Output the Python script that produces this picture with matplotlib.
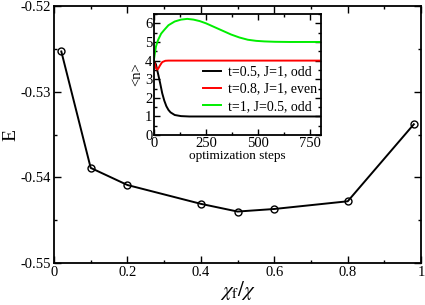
import numpy as np
import matplotlib.pyplot as plt
from matplotlib.ticker import MultipleLocator

plt.rcParams['font.family'] = ['Liberation Serif', 'DejaVu Serif']
plt.rcParams['mathtext.fontset'] = 'stix'

# main curve: energy vs chi_f/chi
chi_ratio = [0.02, 0.1, 0.2, 0.4, 0.5, 0.6, 0.8, 0.98]
energy = [-0.5253, -0.5389, -0.5409, -0.5431, -0.5440, -0.5437, -0.5428, -0.5338]

# inset: <n> vs optimization steps
steps_black = [0, 10, 20, 30, 40, 50, 60, 70, 80, 100, 130, 170, 250, 800]
n_black = [4.0, 3.8, 3.3, 2.8, 2.25, 1.85, 1.55, 1.35, 1.22, 1.08, 1.02, 1.0, 1.0, 1.0]

steps_red = [0, 5, 10, 15, 20, 30, 40, 55, 70, 800]
n_red = [4.0, 3.8, 3.6, 3.52, 3.55, 3.75, 3.92, 3.99, 4.0, 4.0]

steps_green = [0, 5, 10, 20, 35, 50, 70, 100, 130, 160, 190, 220, 250, 290, 330,
               370, 410, 450, 490, 530, 580, 650, 800]
n_green = [4.0, 4.4, 4.75, 5.1, 5.45, 5.65, 5.9, 6.1, 6.2, 6.24, 6.2, 6.12, 6.0,
           5.8, 5.6, 5.4, 5.24, 5.12, 5.06, 5.03, 5.01, 5.0, 5.0]

labels = ['t=0.5, J=1, odd', 't=0.8, J=1, even', 't=1, J=0.5, odd']


def style_ticks(ax, size):
    ax.tick_params(which='both', direction='in', top=True, right=True, width=1.0,
                   labelsize=size, pad=2)
    ax.tick_params(which='major', length=5)
    ax.tick_params(which='minor', length=2.5)
    for s in ax.spines.values():
        s.set_linewidth(1.3)


fig = plt.figure(figsize=(4.25, 3.05), dpi=100)
ax = fig.add_axes([0.127, 0.138, 0.864, 0.842])
ax.plot(chi_ratio, energy, color='black', lw=1.4, marker='o', ms=5,
        mfc='none', mec='black', mew=1.0)
ax.set_xlim(0, 1)
ax.set_ylim(-0.55, -0.52)
ax.xaxis.set_minor_locator(MultipleLocator(0.1))
ax.yaxis.set_minor_locator(MultipleLocator(0.005))
ax.set_xticks([0, 0.2, 0.4, 0.6, 0.8, 1])
ax.set_xticklabels(['0', '0.2', '0.4', '0.6', '0.8', '1'])
ax.set_yticks([-0.55, -0.54, -0.53, -0.52])
ax.set_yticklabels(['-0.55', '-0.54', '-0.53', '-0.52'])
style_ticks(ax, 10.5)
ax.set_xlabel(r'$\chi_{\rm f}/\chi$', fontsize=15, labelpad=0)
ax.set_ylabel('E', fontsize=14)
ax.yaxis.set_label_coords(-0.095, 0.5)

ins = fig.add_axes([0.362, 0.557, 0.393, 0.397])
ins.plot(steps_black, n_black, color='black', lw=1.4, label=labels[0])
ins.plot(steps_red, n_red, color='red', lw=1.4, label=labels[1])
ins.plot(steps_green, n_green, color='#00ee00', lw=1.4, label=labels[2])
ins.set_xlim(0, 800)
ins.set_ylim(0, 6.5)
ins.xaxis.set_major_locator(MultipleLocator(250))
ins.xaxis.set_minor_locator(MultipleLocator(125))
ins.yaxis.set_major_locator(MultipleLocator(1))
ins.yaxis.set_minor_locator(MultipleLocator(0.5))
style_ticks(ins, 10.5)
ins.tick_params(which='major', length=4, pad=1)
ins.tick_params(which='minor', length=2)
ins.set_xlabel('optimization steps', fontsize=9.5, labelpad=0)
ins.set_ylabel('<n>', fontsize=10.5, labelpad=1)
ins.legend(loc='lower right', bbox_to_anchor=(1.0, 0.15), frameon=False,
           fontsize=10, handlelength=1.3, handletextpad=0.5,
           labelspacing=0.3, borderpad=0.1, borderaxespad=0.2)

fig.savefig('out.png', dpi=100)
